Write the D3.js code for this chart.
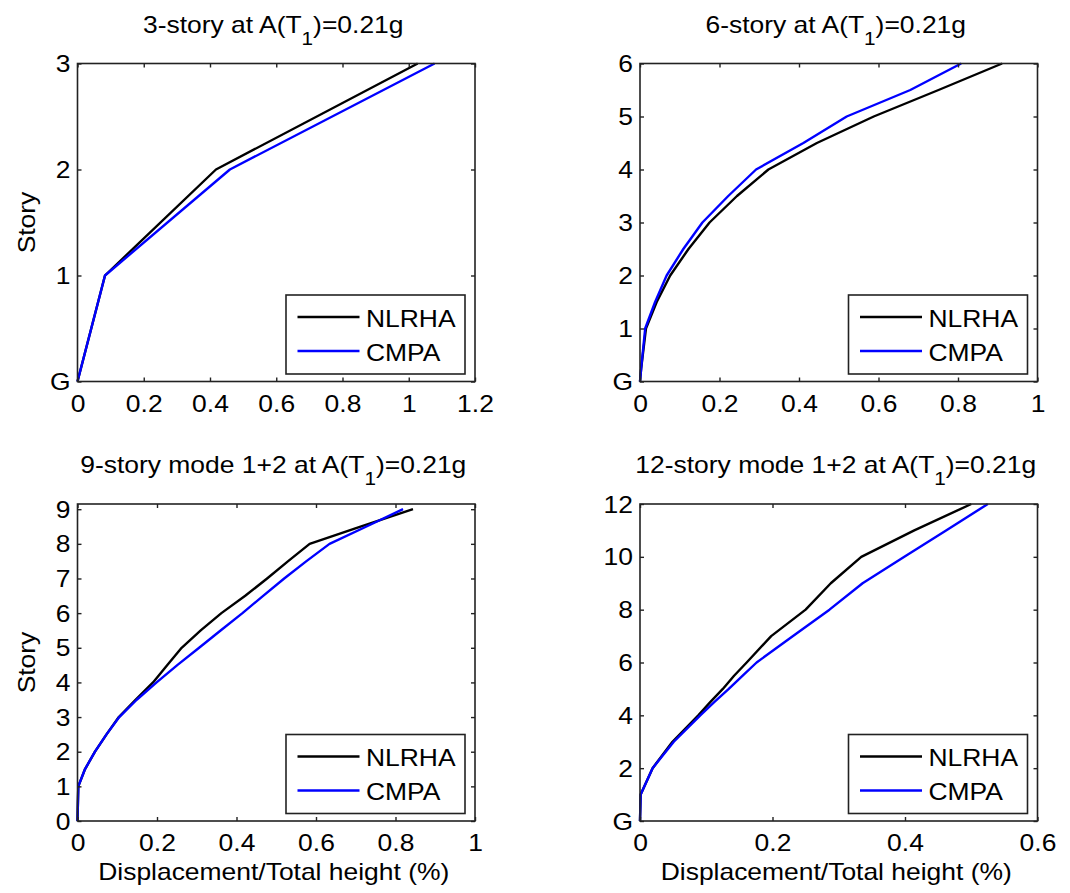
<!DOCTYPE html>
<html>
<head>
<meta charset="utf-8">
<script src="https://cdn.jsdelivr.net/npm/d3@7"></script>
<style>
  html, body { margin: 0; padding: 0; background: #fff; }
  svg { display: block; }
  text { font-family: "Liberation Sans", Arial, Helvetica, sans-serif; fill: #000; }
</style>
</head>
<body>
<svg id="chart" width="1070" height="893"></svg>
<script>
// ---- data: peak story displacement profiles (displacement / total height, %) ----
const seriesNames = ["NLRHA", "CMPA"];

// 3-story building
const levels3 = [0, 1, 2, 3];
const nlrha3  = [0, 0.083, 0.418, 1.027];
const cmpa3   = [0, 0.083, 0.460, 1.078];

// 6-story building
const levels6 = [0, 0.25, 1, 1.5, 2, 2.5, 3, 3.5, 4, 4.5, 5, 5.5, 6];
const nlrha6  = [0, 0.003, 0.015, 0.042, 0.076, 0.122, 0.175, 0.244, 0.323, 0.445, 0.588, 0.751, 0.911];
const cmpa6   = [0, 0.003, 0.013, 0.038, 0.067, 0.109, 0.157, 0.222, 0.292, 0.411, 0.520, 0.680, 0.808];

// 9-story building, modes 1+2
const levels9 = [0, 1, 1.5, 2, 2.5, 3, 3.5, 4, 4.5, 5, 5.5, 6, 6.5, 7, 7.5, 8, 8.5, 9];
const nlrha9  = [0, 0.002, 0.019, 0.044, 0.073, 0.104, 0.146, 0.190, 0.226, 0.262, 0.310, 0.362, 0.422, 0.477, 0.530, 0.584, 0.712, 0.844];
const cmpa9   = [0, 0.002, 0.019, 0.044, 0.073, 0.105, 0.149, 0.199, 0.251, 0.306, 0.360, 0.415, 0.467, 0.520, 0.576, 0.634, 0.727, 0.819];

// 12-story building, modes 1+2
const levels12 = [0, 1, 2, 3, 4, 4.5, 5, 5.5, 6, 7, 8, 9, 10, 11, 12];
const nlrha12  = [0, 0.001, 0.019, 0.049, 0.088, 0.106, 0.125, 0.142, 0.161, 0.198, 0.250, 0.288, 0.334, 0.414, 0.500];
const cmpa12   = [0, 0.001, 0.019, 0.051, 0.091, 0.112, 0.134, 0.155, 0.176, 0.231, 0.286, 0.336, 0.399, 0.462, 0.525];

// axis ticks and labels
const xTicks12  = [0, 0.2, 0.4, 0.6, 0.8, 1, 1.2];
const xLabels12 = ["0", "0.2", "0.4", "0.6", "0.8", "1", "1.2"];
const xTicks10  = [0, 0.2, 0.4, 0.6, 0.8, 1];
const xLabels10 = ["0", "0.2", "0.4", "0.6", "0.8", "1"];
const xTicks06  = [0, 0.2, 0.4, 0.6];
const xLabels06 = ["0", "0.2", "0.4", "0.6"];
const yTicks3  = [0, 1, 2, 3];
const yLabels3 = ["G", "1", "2", "3"];
const yTicks6  = [0, 1, 2, 3, 4, 5, 6];
const yLabels6 = ["G", "1", "2", "3", "4", "5", "6"];
const yTicks9  = [0, 1, 2, 3, 4, 5, 6, 7, 8, 9];
const yLabels9 = ["0", "1", "2", "3", "4", "5", "6", "7", "8", "9"];
const yTicks12  = [0, 2, 4, 6, 8, 10, 12];
const yLabels12 = ["G", "2", "4", "6", "8", "10", "12"];

const titles = [
  ["3-story at A(T", "1", ")=0.21g"],
  ["6-story at A(T", "1", ")=0.21g"],
  ["9-story mode 1+2 at A(T", "1", ")=0.21g"],
  ["12-story mode 1+2 at A(T", "1", ")=0.21g"]
];
const xTitle = "Displacement/Total height (%)";
const yTitle = "Story";

// ---- layout ----
const FS = 23;        // font size
const SX = 1.15;      // horizontal text stretch
const TICK = 4;       // inward tick length
const colors = ["#000000", "#0000ff"];

const panels = [
  { left: 77.5, top: 63.5, w: 397.5, h: 318, xMax: 1.2, yMax: 3,
    levels: levels3, series: [nlrha3, cmpa3], xt: xTicks12, xl: xLabels12, yt: yTicks3, yl: yLabels3,
    title: titles[0], showY: true, showX: false },
  { left: 640, top: 63.5, w: 397.5, h: 318, xMax: 1, yMax: 6,
    levels: levels6, series: [nlrha6, cmpa6], xt: xTicks10, xl: xLabels10, yt: yTicks6, yl: yLabels6,
    title: titles[1], showY: false, showX: false },
  { left: 77.5, top: 504, w: 397.5, h: 317, xMax: 1, yMax: 9.15,
    levels: levels9, series: [nlrha9, cmpa9], xt: xTicks10, xl: xLabels10, yt: yTicks9, yl: yLabels9,
    title: titles[2], showY: true, showX: true },
  { left: 640, top: 504, w: 397.5, h: 317, xMax: 0.6, yMax: 12,
    levels: levels12, series: [nlrha12, cmpa12], xt: xTicks06, xl: xLabels06, yt: yTicks12, yl: yLabels12,
    title: titles[3], showY: false, showX: true }
];

const svg = d3.select("#chart");

panels.forEach(p => {
  const g = svg.append("g").attr("transform", `translate(${p.left},${p.top})`);
  const x = d3.scaleLinear().domain([0, p.xMax]).range([0, p.w]);
  const y = d3.scaleLinear().domain([0, p.yMax]).range([p.h, 0]);

  // data curves
  const line = d3.line().x(d => x(d[0])).y(d => y(d[1]));
  p.series.forEach((vals, i) => {
    const pts = vals.map((v, k) => [v, p.levels[k]]);
    g.append("path")
      .datum(pts)
      .attr("d", line)
      .attr("fill", "none")
      .attr("stroke", colors[i])
      .attr("stroke-width", 2.4)
      .attr("stroke-linejoin", "round");
  });

  // axes: bottom/left labelled, top/right mirrored, ticks pointing inward
  const fmtX = d => p.xl[p.xt.indexOf(d)];
  const fmtY = d => p.yl[p.yt.indexOf(d)];

  const axB = g.append("g").attr("transform", `translate(0,${p.h})`)
    .call(d3.axisBottom(x).tickValues(p.xt).tickFormat(fmtX).tickSizeInner(-TICK).tickSizeOuter(0));
  const axL = g.append("g")
    .call(d3.axisLeft(y).tickValues(p.yt).tickFormat(fmtY).tickSizeInner(-TICK).tickSizeOuter(0));
  g.append("g")
    .call(d3.axisTop(x).tickValues(p.xt).tickFormat("").tickSizeInner(-TICK).tickSizeOuter(0));
  g.append("g").attr("transform", `translate(${p.w},0)`)
    .call(d3.axisRight(y).tickValues(p.yt).tickFormat("").tickSizeInner(-TICK).tickSizeOuter(0));

  g.selectAll(".domain").attr("stroke", "none");
  g.selectAll(".tick line").attr("stroke", "#222").attr("stroke-width", 1.4);

  axB.selectAll("text")
    .attr("y", null).attr("dy", null)
    .attr("font-size", FS).attr("text-anchor", "middle")
    .attr("transform", `translate(0,30) scale(${SX},1)`);
  axL.selectAll("text")
    .attr("x", null).attr("dy", null)
    .attr("font-size", FS).attr("text-anchor", "end")
    .attr("transform", `translate(-7,8) scale(${SX},1)`);

  // plot frame
  g.append("rect")
    .attr("x", 0).attr("y", 0).attr("width", p.w).attr("height", p.h)
    .attr("fill", "none").attr("stroke", "#222").attr("stroke-width", 1.6);

  // title with subscript
  const t = g.append("text")
    .attr("font-size", FS).attr("text-anchor", "middle")
    .attr("transform", `translate(${p.w / 2 - 3},-31) scale(${SX},1)`);
  t.append("tspan").text(p.title[0]);
  t.append("tspan").attr("font-size", 18).attr("dy", 12).text(p.title[1]);
  t.append("tspan").attr("dy", -12).text(p.title[2]);

  if (p.showY) {
    g.append("text")
      .attr("font-size", FS).attr("text-anchor", "middle")
      .attr("transform", `translate(${-43},${p.h / 2}) rotate(-90) scale(${SX},1)`)
      .text(yTitle);
  }
  if (p.showX) {
    g.append("text")
      .attr("font-size", FS).attr("text-anchor", "middle")
      .attr("transform", `translate(${p.w / 2 - 2.5},${p.h + 59}) scale(${SX},1)`)
      .text(xTitle);
  }

  // legend
  const lw = 179, lh = 79;
  const lg = g.append("g").attr("transform", `translate(${p.w - 10 - lw},${p.h - 7.5 - lh})`);
  lg.append("rect").attr("width", lw).attr("height", lh)
    .attr("fill", "#fff").attr("stroke", "#222").attr("stroke-width", 1.6);
  seriesNames.forEach((name, i) => {
    const ly = 22 + i * 34;
    lg.append("line").attr("x1", 11.5).attr("x2", 73.5).attr("y1", ly).attr("y2", ly)
      .attr("stroke", colors[i]).attr("stroke-width", 2.4);
    lg.append("text").attr("font-size", FS)
      .attr("transform", `translate(80,${ly + 9.5}) scale(${SX},1)`)
      .text(name);
  });
});
</script>
</body>
</html>
